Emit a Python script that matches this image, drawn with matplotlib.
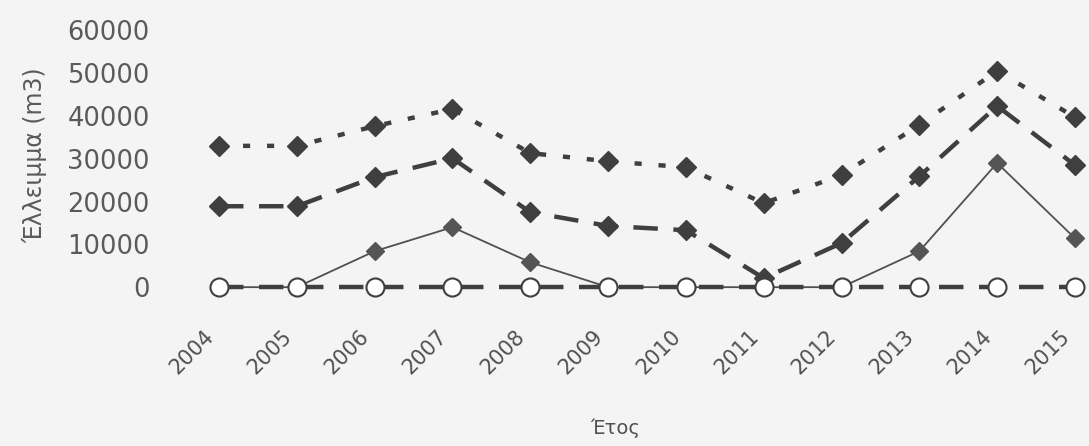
import matplotlib.pyplot as plt

# ετήσιο έλλειμμα νερού ανά σενάριο
ετη = ['2004', '2005', '2006', '2007', '2008', '2009', '2010', '2011', '2012', '2013', '2014', '2015']
ελλειμμα_α = [33000, 33000, 37600, 41600, 31300, 29400, 28000, 19600, 26200, 37900, 50500, 39700]
ελλειμμα_β = [18900, 18900, 25700, 30100, 17500, 14300, 13300, 2100, 10300, 25900, 42300, 28500]
ελλειμμα_γ = [0, 0, 8400, 14000, 5800, 0, 0, 0, 0, 8400, 29000, 11400]
ελλειμμα_δ = [0, 0, 0, 0, 0, 0, 0, 0, 0, 0, 0, 0]

χρωμα = '#3f3f3f'
φοντο = '#f4f4f4'

fig = plt.figure(figsize=(10.89, 4.46), dpi=100, facecolor=φοντο)
ax = fig.add_axes([190 / 1089, 1 - 300 / 446, 1 - 190 / 1089, 280 / 446])
ax.set_facecolor(φοντο)

x = list(range(len(ετη)))

ax.plot(x, ελλειμμα_α, color=χρωμα, lw=3.2, dashes=(1.6, 3.8),
        marker='D', ms=10, mfc=χρωμα, mec=χρωμα, clip_on=False, zorder=3)
ax.plot(x, ελλειμμα_β, color=χρωμα, lw=3.2, dashes=(5.5, 3.5),
        marker='D', ms=10, mfc=χρωμα, mec=χρωμα, clip_on=False, zorder=3)
ax.plot(x, ελλειμμα_γ, color='#505050', lw=1.3,
        marker='D', ms=9, mfc='#555555', mec='#555555', clip_on=False, zorder=4)
ax.plot(x, ελλειμμα_δ, color=χρωμα, lw=3.2, dashes=(5.5, 3.5),
        marker='o', ms=13, mfc='white', mec=χρωμα, mew=1.5, clip_on=False, zorder=5)

ax.set_xlim(-0.373, 11.18)
ax.set_ylim(-3000, 62400)
ax.set_yticks([0, 10000, 20000, 30000, 40000, 50000, 60000])
# οι ετικέτες των ετών κάθονται λίγο αριστερά από κάθε σημείο
ax.set_xticks([i - 0.2 for i in x])
ax.set_xticklabels(ετη, rotation=45, ha='right', rotation_mode='anchor',
                   fontsize=15, color='#505050')
ax.tick_params(axis='y', labelsize=18.5, labelcolor='#5a5a5a', length=0, pad=29)
ax.tick_params(axis='x', length=0, pad=19)
for s in ax.spines.values():
    s.set_visible(False)

fig.text(35 / 1089, 1 - 155 / 446, 'Έλλειμμα (m3)', rotation=90, ha='center',
         va='center', fontsize=17, color='#5a5a5a')
fig.text(615 / 1089, 1 - 428 / 446, 'Έτος', ha='center', va='center',
         fontsize=14, color='#505050')

fig.savefig('out.png', dpi=100, facecolor=φοντο)
